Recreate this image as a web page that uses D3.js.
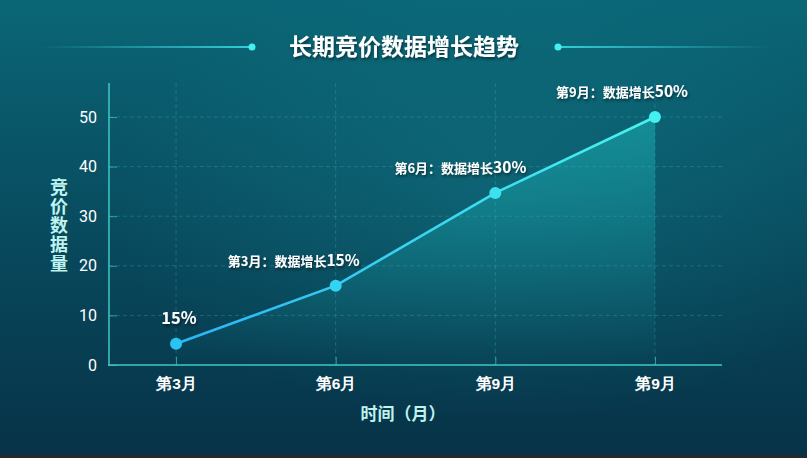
<!DOCTYPE html>
<html>
<head>
<meta charset="utf-8">
<script src="https://cdn.jsdelivr.net/npm/d3@7"></script>
<style>
  html, body { margin: 0; padding: 0; background: #062f40; }
  svg { display: block; font-family: "Noto Sans CJK SC", "Noto Sans", sans-serif; }
</style>
</head>
<body>
<svg id="chart" width="807" height="458"></svg>
<script>
(function () {

  // data
  var months = ['第3月', '第6月', '第9月', '第9月 ']
  var values = [4.3, 16, 34.7, 50]
  var notes = ['15%', '第3月：数据增长15%', '第6月：数据增长30%', '第9月：数据增长50%']
  var yTicks = [0, 10, 20, 30, 40, 50]

  var svg = d3.select('#chart')
  var defs = svg.append('defs')

  // background
  var bg = defs.append('linearGradient').attr('id', 'bg')
    .attr('x1', 0).attr('y1', 0).attr('x2', 0).attr('y2', 1)
  bg.append('stop').attr('offset', '0%').attr('stop-color', '#0a6676')
  bg.append('stop').attr('offset', '55%').attr('stop-color', '#08485c')
  bg.append('stop').attr('offset', '100%').attr('stop-color', '#073247')

  var glow = defs.append('radialGradient').attr('id', 'glow')
    .attr('cx', 0.62).attr('cy', 0.42).attr('r', 0.5)
  glow.append('stop').attr('offset', '0%').attr('stop-color', '#1aa0a8').attr('stop-opacity', 0.25)
  glow.append('stop').attr('offset', '100%').attr('stop-color', '#1aa0a8').attr('stop-opacity', 0)

  var line = defs.append('linearGradient').attr('id', 'lineGrad')
    .attr('gradientUnits', 'userSpaceOnUse')
    .attr('x1', 177).attr('y1', 0).attr('x2', 657).attr('y2', 0)
  line.append('stop').attr('offset', '0%').attr('stop-color', '#2ab4f4')
  line.append('stop').attr('offset', '100%').attr('stop-color', '#48f4ee')

  var area = defs.append('linearGradient').attr('id', 'areaGrad')
    .attr('x1', 0).attr('y1', 0).attr('x2', 0).attr('y2', 1)
  area.append('stop').attr('offset', '0%').attr('stop-color', '#1fc4c4').attr('stop-opacity', 0.45)
  area.append('stop').attr('offset', '100%').attr('stop-color', '#1fc4c4').attr('stop-opacity', 0)

  var leftDeco = defs.append('linearGradient').attr('id', 'decoL')
    .attr('x1', 0).attr('y1', 0).attr('x2', 1).attr('y2', 0)
  leftDeco.append('stop').attr('offset', '0%').attr('stop-color', '#3ee8f0').attr('stop-opacity', 0)
  leftDeco.append('stop').attr('offset', '100%').attr('stop-color', '#3ee8f0').attr('stop-opacity', 1)
  var rightDeco = defs.append('linearGradient').attr('id', 'decoR')
    .attr('x1', 0).attr('y1', 0).attr('x2', 1).attr('y2', 0)
  rightDeco.append('stop').attr('offset', '0%').attr('stop-color', '#3ee8f0').attr('stop-opacity', 1)
  rightDeco.append('stop').attr('offset', '100%').attr('stop-color', '#3ee8f0').attr('stop-opacity', 0)

  var shadow = defs.append('filter').attr('id', 'shadow')
    .attr('x', '-10%').attr('y', '-30%').attr('width', '120%').attr('height', '160%')
  shadow.append('feDropShadow').attr('dx', 1).attr('dy', 2).attr('stdDeviation', 1.5)
    .attr('flood-color', '#000').attr('flood-opacity', 0.5)

  svg.append('rect').attr('width', 807).attr('height', 458).attr('fill', 'url(#bg)')
  svg.append('rect').attr('width', 807).attr('height', 458).attr('fill', 'url(#glow)')
  svg.append('rect').attr('y', 455).attr('width', 807).attr('height', 3).attr('fill', '#262a2c')

  // title
  svg.append('text')
    .attr('x', 404).attr('y', 55)
    .attr('text-anchor', 'middle')
    .attr('fill', '#ffffff')
    .attr('font-size', 23)
    .attr('font-weight', 700)
    .attr('filter', 'url(#shadow)')
    .text('长期竞价数据增长趋势')

  svg.append('rect').attr('x', 40).attr('width', 212).attr('y', 46.2).attr('height', 1.6)
    .attr('fill', 'url(#decoL)')
  svg.append('rect').attr('x', 558).attr('width', 212).attr('y', 46.2).attr('height', 1.6)
    .attr('fill', 'url(#decoR)')
  svg.append('circle').attr('cx', 252).attr('cy', 47).attr('r', 3.5).attr('fill', '#45eef2')
  svg.append('circle').attr('cx', 558).attr('cy', 47).attr('r', 3.5).attr('fill', '#45eef2')

  // scales
  var x = d3.scalePoint().domain(months).range([109, 722]).padding(0.42)
  var y = d3.scaleLinear().domain([0, 50]).range([365, 117])
  var yTop = 83

  // grid
  svg.append('g').selectAll('line')
    .data(yTicks.slice(1))
    .enter().append('line')
    .attr('x1', 109).attr('x2', 722)
    .attr('y1', d => y(d)).attr('y2', d => y(d))
    .attr('stroke', '#3fb8c0').attr('stroke-opacity', 0.3)
    .attr('stroke-dasharray', '4,3')

  svg.append('g').selectAll('line')
    .data(months)
    .enter().append('line')
    .attr('x1', d => x(d)).attr('x2', d => x(d))
    .attr('y1', yTop).attr('y2', 365)
    .attr('stroke', '#3fb8c0').attr('stroke-opacity', 0.3)
    .attr('stroke-dasharray', '4,3')

  // area + line
  var pts = months.map((m, i) => [x(m), y(values[i])])
  svg.append('path')
    .datum(pts)
    .attr('fill', 'url(#areaGrad)')
    .attr('d', d3.area().x(d => d[0]).y0(365).y1(d => d[1]))

  svg.append('path')
    .datum(pts)
    .attr('fill', 'none')
    .attr('stroke', 'url(#lineGrad)')
    .attr('stroke-width', 2.6)
    .attr('d', d3.line())

  // axes
  var yAxis = svg.append('g')
    .attr('transform', 'translate(109,0)')
    .call(d3.axisLeft(y).tickValues(yTicks).tickSize(-8).tickPadding(12))
  yAxis.select('.domain').remove()
  yAxis.selectAll('.tick line').attr('stroke', '#3cc8c4').attr('stroke-opacity', 0.7)
  yAxis.selectAll('text')
    .attr('fill', '#ffffff').attr('font-size', 16).attr('font-family', 'Roboto, "Noto Sans", sans-serif')
  svg.append('line').attr('x1', 109).attr('x2', 109).attr('y1', yTop).attr('y2', 366)
    .attr('stroke', '#3cc8c4').attr('stroke-width', 1.5)

  var xAxis = svg.append('g')
    .attr('transform', 'translate(0,365)')
    .call(d3.axisBottom(x).tickSize(-8).tickPadding(13))
  xAxis.select('.domain').remove()
  xAxis.selectAll('.tick line').attr('stroke', '#3cc8c4').attr('stroke-opacity', 0.7)
  xAxis.selectAll('text')
    .attr('fill', '#ffffff').attr('font-size', 15.5).attr('font-weight', 700)
  svg.append('line').attr('x1', 108).attr('x2', 722).attr('y1', 365).attr('y2', 365)
    .attr('stroke', '#3cc8c4').attr('stroke-width', 1.5)

  // axis titles
  svg.append('text')
    .attr('x', 403).attr('y', 420)
    .attr('text-anchor', 'middle')
    .attr('fill', '#bff3ee').attr('font-size', 17).attr('font-weight', 700)
    .text('时间（月）')

  svg.append('text')
    .attr('x', 59).attr('y', 226)
    .attr('text-anchor', 'middle')
    .attr('writing-mode', 'tb')
    .attr('style', 'text-orientation: upright; writing-mode: vertical-rl')
    .attr('letter-spacing', 1)
    .attr('fill', '#bff3ee').attr('font-size', 18).attr('font-weight', 700)
    .text('竞价数据量')

  // points
  svg.append('g').selectAll('circle')
    .data(pts)
    .enter().append('circle')
    .attr('cx', d => d[0]).attr('cy', d => d[1])
    .attr('r', 6)
    .attr('fill', (d, i) => d3.interpolateRgb('#2ac4f4', '#45f0f0')(i / 3))

  // notes
  var labels = svg.append('g').selectAll('text')
    .data(notes)
    .enter().append('text')
    .attr('fill', '#ffffff')
    .attr('font-weight', 700)
    .attr('filter', 'url(#shadow)')
    .attr('text-anchor', (d, i) => i === 0 ? 'middle' : 'end')
    .attr('x', (d, i) => i === 0 ? pts[i][0] + 3 : pts[i][0] + [0, 24, 31, 33][i])
    .attr('y', (d, i) => pts[i][1] - 20)

  labels.each(function (d) {
    var el = d3.select(this)
    var m = d.match(/^(.*?)(\d+%)$/)
    if (m[1]) el.append('tspan').attr('font-size', 13).text(m[1])
    el.append('tspan').attr('font-size', m[1] ? 15.5 : 16.5).text(m[2])
  })

})()
</script>
</body>
</html>
